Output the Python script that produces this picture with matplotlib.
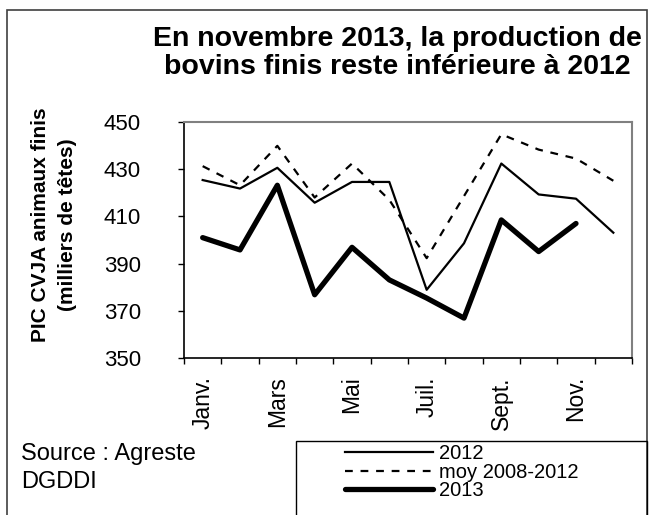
import matplotlib
matplotlib.use("Agg")
import matplotlib.pyplot as plt
from matplotlib.patches import Rectangle

plt.rcParams.update({
    "font.family": ["Liberation Sans", "DejaVu Sans"],
    "axes.unicode_minus": False,
})

# Monthly values (thousands of heads), Jan..Dec
months = ["Janv.", "Févr.", "Mars", "Avr.", "Mai", "Juin",
          "Juil.", "Août", "Sept.", "Oct.", "Nov.", "Déc."]
prod_2012 = [425.4, 421.8, 430.6, 415.8, 424.6, 424.6,
             378.9, 398.6, 432.4, 419.3, 417.5, 403.1]
moy_2008_2012 = [431.3, 423.2, 439.9, 418.0, 432.4, 417.0,
                 392.3, 418.6, 444.8, 438.3, 434.5, 425.1]
prod_2013 = [401.0, 395.8, 423.2, 376.8, 396.9, 383.1,
             375.4, 366.9, 408.5, 395.1, 407.0]
y_ticks = [350, 370, 390, 410, 430, 450]

W, H = 650, 515
fig = plt.figure(figsize=(W / 100, H / 100), dpi=100)

# outer chart border
fig.patches.append(Rectangle((7 / W, -0.01), 640 / W, 1 - 10 / H + 0.01,
                             transform=fig.transFigure, fill=False,
                             edgecolor="#404040", lw=1.2))

ax = fig.add_axes([184 / W, 1 - 358 / H, (632 - 184) / W, (358 - 122) / H])

x = list(range(len(months)))
l1, = ax.plot(x, prod_2012, color="black", lw=1.6, label="2012")
l2, = ax.plot(x, moy_2008_2012, color="black", lw=1.6, ls=(0, (3.5, 3.5)),
              label="moy 2008-2012")
l3, = ax.plot(x[:len(prod_2013)], prod_2013, color="black", lw=3.8,
              solid_capstyle="round", label="2013")

ax.set_xlim(-0.5, len(months) - 0.5)
ax.set_ylim(350, 450)
ax.set_yticks(y_ticks)
ax.set_yticklabels([str(v) for v in y_ticks], fontsize=16)
ax.tick_params(axis="y", direction="out", length=4, width=1, pad=27)

# tick marks at category boundaries, labels every other month
ax.set_xticks([i - 0.5 for i in range(len(months) + 1)])
ax.set_xticklabels([])
ax.set_xticks(x[::2], minor=True)
ax.set_xticklabels(months[::2], minor=True, rotation=90, fontsize=16.5)
ax.tick_params(axis="x", which="major", direction="out", length=4, width=1)
ax.tick_params(axis="x", which="minor", length=0, pad=13)

for side in ("top", "right"):
    ax.spines[side].set_color("#808080")
    ax.spines[side].set_linewidth(1.5)
for side in ("left", "bottom"):
    ax.spines[side].set_linewidth(1.2)

fig.text(54 / W, 1 - 225 / H, "PIC CVJA animaux finis\n(milliers de têtes)",
         rotation=90, ha="center", va="center", fontsize=15,
         fontweight="bold", linespacing=1.5)

fig.text(397 / W, 1 - 53 / H,
         "En novembre 2013, la production de\nbovins finis reste inférieure à 2012",
         ha="center", va="center", fontsize=20.5, fontweight="bold",
         linespacing=1.05)

fig.text(21 / W, 1 - 460 / H, "Source : Agreste", ha="left", va="baseline",
         fontsize=17)
fig.text(21 / W, 1 - 488 / H, "DGDDI", ha="left", va="baseline", fontsize=17)

# legend box
fig.patches.append(Rectangle((296 / W, -0.01), (647 - 296) / W,
                             1 - 441 / H + 0.01, transform=fig.transFigure,
                             fill=False, edgecolor="black", lw=1))
fig.legend(handles=[l1, l2, l3], loc="upper left",
           bbox_to_anchor=(345 / W, 1 - 444 / H), frameon=False,
           fontsize=14.5, handlelength=4.35, handletextpad=0.3,
           labelspacing=-0.02, borderpad=0.0, borderaxespad=0.0)

fig.savefig("out.png", dpi=100)
